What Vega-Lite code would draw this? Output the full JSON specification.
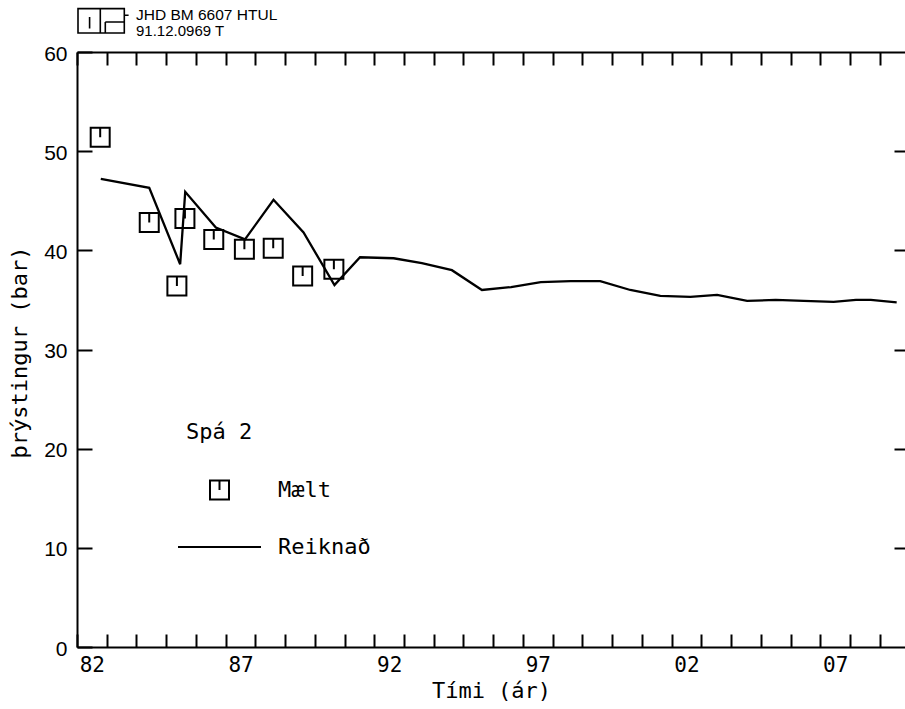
{
  "$schema": "https://vega.github.io/schema/vega-lite/v6.json",
  "width": 828,
  "height": 595,
  "autosize": {"type": "none"},
  "padding": {"left": 77, "top": 52, "right": 0, "bottom": 62},
  "background": "white",
  "title": {
    "text": "JHD BM 6607 HTUL",
    "subtitle": "91.12.0969 T",
    "anchor": "start",
    "frame": "group",
    "dx": 59,
    "offset": -34,
    "font": "Liberation Sans",
    "fontSize": 15.5,
    "fontWeight": "normal",
    "color": "black",
    "subtitleFont": "Liberation Sans",
    "subtitleFontSize": 15,
    "subtitleColor": "black",
    "subtitlePadding": 1
  },
  "datasets": {
    "reiknad": [
      {"ar": 1982.8, "thrystingur": 47.2, "serie": "Reiknað"},
      {"ar": 1984.43, "thrystingur": 46.3, "serie": "Reiknað"},
      {"ar": 1985.47, "thrystingur": 38.6, "serie": "Reiknað"},
      {"ar": 1985.64, "thrystingur": 45.9, "serie": "Reiknað"},
      {"ar": 1986.67, "thrystingur": 42.3, "serie": "Reiknað"},
      {"ar": 1987.65, "thrystingur": 41.1, "serie": "Reiknað"},
      {"ar": 1988.61, "thrystingur": 45.1, "serie": "Reiknað"},
      {"ar": 1989.62, "thrystingur": 41.8, "serie": "Reiknað"},
      {"ar": 1990.66, "thrystingur": 36.5, "serie": "Reiknað"},
      {"ar": 1991.52, "thrystingur": 39.3, "serie": "Reiknað"},
      {"ar": 1992.65, "thrystingur": 39.2, "serie": "Reiknað"},
      {"ar": 1993.6, "thrystingur": 38.7, "serie": "Reiknað"},
      {"ar": 1994.61, "thrystingur": 38.0, "serie": "Reiknað"},
      {"ar": 1995.62, "thrystingur": 36.0, "serie": "Reiknað"},
      {"ar": 1996.6, "thrystingur": 36.3, "serie": "Reiknað"},
      {"ar": 1997.6, "thrystingur": 36.8, "serie": "Reiknað"},
      {"ar": 1998.6, "thrystingur": 36.9, "serie": "Reiknað"},
      {"ar": 1999.6, "thrystingur": 36.9, "serie": "Reiknað"},
      {"ar": 2000.61, "thrystingur": 36.0, "serie": "Reiknað"},
      {"ar": 2001.62, "thrystingur": 35.4, "serie": "Reiknað"},
      {"ar": 2002.63, "thrystingur": 35.3, "serie": "Reiknað"},
      {"ar": 2003.53, "thrystingur": 35.5, "serie": "Reiknað"},
      {"ar": 2004.54, "thrystingur": 34.9, "serie": "Reiknað"},
      {"ar": 2005.5, "thrystingur": 35.0, "serie": "Reiknað"},
      {"ar": 2006.44, "thrystingur": 34.9, "serie": "Reiknað"},
      {"ar": 2007.45, "thrystingur": 34.8, "serie": "Reiknað"},
      {"ar": 2008.2, "thrystingur": 35.0, "serie": "Reiknað"},
      {"ar": 2008.7, "thrystingur": 35.0, "serie": "Reiknað"},
      {"ar": 2009.57, "thrystingur": 34.75, "serie": "Reiknað"}
    ],
    "maelt": [
      {"ar": 1982.78, "thrystingur": 51.4, "serie": "Mælt"},
      {"ar": 1984.43, "thrystingur": 42.8, "serie": "Mælt"},
      {"ar": 1985.36, "thrystingur": 36.4, "serie": "Mælt"},
      {"ar": 1985.63, "thrystingur": 43.2, "serie": "Mælt"},
      {"ar": 1986.6, "thrystingur": 41.1, "serie": "Mælt"},
      {"ar": 1987.63, "thrystingur": 40.1, "serie": "Mælt"},
      {"ar": 1988.6, "thrystingur": 40.2, "serie": "Mælt"},
      {"ar": 1989.59, "thrystingur": 37.4, "serie": "Mælt"},
      {"ar": 1990.64, "thrystingur": 38.1, "serie": "Mælt"}
    ]
  },
  "layer": [
    {
      "data": {"name": "reiknad"},
      "mark": {"type": "line", "strokeWidth": 2.3, "strokeJoin": "miter"},
      "encoding": {
        "x": {
          "field": "ar",
          "type": "quantitative",
          "scale": {"domain": [1982, 2009.85], "nice": false, "zero": false},
          "axis": {
            "orient": "bottom",
            "values": [1982, 1983, 1984, 1985, 1986, 1987, 1988, 1989, 1990, 1991, 1992, 1993, 1994, 1995, 1996, 1997, 1998, 1999, 2000, 2001, 2002, 2003, 2004, 2005, 2006, 2007, 2008, 2009],
            "tickSize": -13,
            "labels": false,
            "title": null
          }
        },
        "y": {
          "field": "thrystingur",
          "type": "quantitative",
          "scale": {"domain": [0, 60], "nice": false},
          "axis": {
            "orient": "right",
            "offset": -828,
            "values": [0, 10, 20, 30, 40, 50, 60],
            "tickSize": 15,
            "labels": false,
            "title": null
          }
        },
        "color": {
          "field": "serie",
          "type": "nominal",
          "scale": {"domain": ["Mælt", "Reiknað"], "range": ["black", "black"]},
          "legend": {
            "orient": "none",
            "legendX": 100,
            "legendY": 370,
            "columns": 1,
            "title": "Spá 2",
            "titleFont": "DejaVu Sans Mono",
            "titleFontSize": 22,
            "titleFontWeight": "normal",
            "titleColor": "black",
            "titlePadding": 35,
            "labelFont": "DejaVu Sans Mono",
            "labelFontSize": 22,
            "labelColor": "black",
            "labelOffset": 16,
            "rowPadding": 35,
            "clipHeight": 22,
            "symbolSize": 6889,
            "symbolStrokeWidth": 2,
            "encode": {
              "symbols": {
                "update": {
                  "shape": {"signal": "datum.value === 'Mælt' ? 'M-1,-1H1V1H-1Z M0,-1V0' : 'M-1,0H1'"},
                  "size": {"signal": "datum.value === 'Mælt' ? 361 : 6889"},
                  "stroke": {"value": "black"},
                  "fill": {"value": "transparent"},
                  "strokeWidth": {"value": 2},
                  "opacity": {"value": 1}
                }
              },
              "title": {"update": {"dx": {"value": 9}}}
            }
          }
        }
      }
    },
    {
      "data": {"name": "maelt"},
      "mark": {
        "type": "point",
        "shape": "M-1,-1H1V1H-1Z M0,-1V0",
        "size": 361,
        "filled": false,
        "strokeWidth": 2,
        "opacity": 1
      },
      "encoding": {
        "x": {
          "field": "ar",
          "type": "quantitative",
          "axis": {
            "orient": "bottom",
            "values": [1982.5, 1987.5, 1992.5, 1997.5, 2002.5, 2007.5],
            "labelExpr": "slice(format(floor(datum.value), 'd'), 2)",
            "ticks": false,
            "domain": false,
            "labelPadding": 7,
            "labelFont": "DejaVu Sans Mono",
            "labelFontSize": 21,
            "title": "Tími (ár)",
            "titleFont": "DejaVu Sans Mono",
            "titleFontSize": 22,
            "titleFontWeight": "normal",
            "titleX": 414,
            "titleY": 33
          }
        },
        "y": {
          "field": "thrystingur",
          "type": "quantitative",
          "axis": {
            "orient": "left",
            "values": [0, 10, 20, 30, 40, 50, 60],
            "ticks": false,
            "domain": false,
            "labelPadding": 10,
            "labelFont": "Liberation Sans",
            "labelFontSize": 21,
            "labelOffset": 2,
            "title": "þrýstingur (bar)",
            "titleFont": "DejaVu Sans Mono",
            "titleFontSize": 22,
            "titleFontWeight": "normal",
            "titleX": -46,
            "titleY": 300
          }
        },
        "color": {
          "field": "serie",
          "type": "nominal"
        }
      }
    },
    {
      "data": {"values": [{}]},
      "mark": {
        "type": "point",
        "shape": "M0.1,-4.34H4.73V-1.9H0.1Z M2.33,-4.34V-1.9 M1.26,-3.5V-2.34 M2.83,-3.0H4.73 M2.83,-3.0V-1.9 M4.73,-3.67H5.16",
        "size": 400,
        "filled": false,
        "strokeWidth": 1.6,
        "color": "black",
        "opacity": 1
      },
      "encoding": {
        "x": {
          "datum": 1982,
          "type": "quantitative",
          "axis": {
            "orient": "top",
            "values": [1982, 1983, 1984, 1985, 1986, 1987, 1988, 1989, 1990, 1991, 1992, 1993, 1994, 1995, 1996, 1997, 1998, 1999, 2000, 2001, 2002, 2003, 2004, 2005, 2006, 2007, 2008, 2009],
            "tickSize": -13,
            "labels": false,
            "title": null
          }
        },
        "y": {
          "datum": 60,
          "type": "quantitative",
          "axis": {
            "orient": "right",
            "values": [10, 20, 30, 40, 50],
            "tickSize": -11,
            "domain": false,
            "labels": false,
            "title": null
          }
        }
      }
    }
  ],
  "resolve": {"axis": {"x": "independent", "y": "independent"}},
  "config": {
    "view": {"stroke": null},
    "axis": {
      "grid": false,
      "domainColor": "black",
      "domainWidth": 2,
      "tickColor": "black",
      "tickWidth": 2,
      "labelColor": "black",
      "titleColor": "black"
    }
  }
}
